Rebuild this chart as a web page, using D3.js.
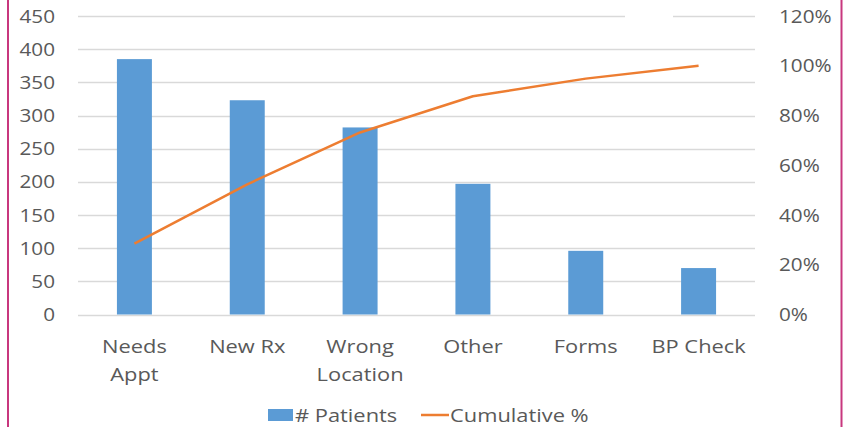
<!DOCTYPE html>
<html><head><meta charset="utf-8">
<script src="https://cdnjs.cloudflare.com/ajax/libs/d3/7.8.5/d3.min.js"></script>
<style>body{margin:0;background:#fff}svg{display:block}</style>
</head><body><svg id="c" width="850" height="427"></svg>
<script>
const categories = ["Needs Appt","New Rx","Wrong Location","Other","Forms","BP Check"];
const categoryLines = [["Needs","Appt"],["New Rx"],["Wrong","Location"],["Other"],["Forms"],["BP Check"]];
const patients = [385,323,282,197,96,70];
const leftTicks = [0,50,100,150,200,250,300,350,400,450];
const rightTicks = [0,0.2,0.4,0.6,0.8,1.0,1.2];
const seriesNames = ["# Patients","Cumulative %"];

const total = d3.sum(patients);
let run = 0;
const cumulative = patients.map(v => (run += v) / total);

const svg = d3.select("#c");
const font = "'Open Sans', sans-serif";
const txt = "#595959";
const SX = 1.15;
const m = {left:78, right:755, top:16, bottom:314.5};

const x = d3.scaleBand().domain(categories).range([m.left, m.right]).paddingInner(0.69).paddingOuter(0.345);
const y = d3.scaleLinear().domain([0,450]).range([m.bottom, m.top]);
const y2 = d3.scaleLinear().domain([0,1.2]).range([m.bottom, m.top]);

function label(g, tx, ty, str, anchor, size){
  return g.append("text").attr("transform",`translate(${tx},${ty}) scale(${SX},1)`)
    .attr("text-anchor",anchor).attr("font-family",font).attr("font-size",size).attr("fill",txt).text(str);
}

// border
svg.append("line").attr("x1",8).attr("x2",8).attr("y1",0).attr("y2",427).attr("stroke","#c8377e").attr("stroke-width",2);
svg.append("line").attr("x1",841.5).attr("x2",841.5).attr("y1",0).attr("y2",427).attr("stroke","#c8377e").attr("stroke-width",2);

// gridlines
svg.append("g").selectAll("line").data(leftTicks).join("line")
  .attr("x1",m.left).attr("x2",m.right).attr("y1",d=>Math.round(y(d))+0.5).attr("y2",d=>Math.round(y(d))+0.5)
  .attr("stroke","#d9d9d9").attr("stroke-width",1.3);
// gap in the top gridline (empty title box in original)
svg.append("rect").attr("x",625).attr("y",12).attr("width",48).attr("height",8).attr("fill","#fff");

// left axis labels
const la = svg.append("g");
leftTicks.forEach(t => label(la, 55, y(t)+6.5, d3.format("d")(t), "end", 18));

// right axis labels
const ra = svg.append("g");
const pf = d3.format(".0%");
rightTicks.forEach(t => label(ra, 779, y2(t)+6.5, pf(t), "start", 18));

// bars
svg.append("g").selectAll("rect").data(patients).join("rect")
  .attr("x",(d,i)=>x(categories[i])).attr("width",x.bandwidth())
  .attr("y",d=>y(d)).attr("height",d=>y(0)-y(d)).attr("fill","#5b9bd5");

// line
svg.append("path").datum(cumulative)
  .attr("d", d3.line().x((d,i)=>x(categories[i])+x.bandwidth()/2).y(d=>y2(d)))
  .attr("fill","none").attr("stroke","#ed7d31").attr("stroke-width",2.5).attr("stroke-linejoin","round");

// category labels
const cg = svg.append("g");
categoryLines.forEach((lines,i) => {
  const cx = x(categories[i]) + x.bandwidth()/2;
  lines.forEach((s,j) => label(cg, cx, 352.5 + j*28.5, s, "middle", 19));
});

// legend
const lg = svg.append("g");
lg.append("rect").attr("x",268).attr("y",409).attr("width",25).attr("height",12).attr("fill","#5b9bd5");
label(lg, 295, 421.5, seriesNames[0], "start", 19);
lg.append("line").attr("x1",421).attr("x2",449).attr("y1",415).attr("y2",415).attr("stroke","#ed7d31").attr("stroke-width",2.5);
label(lg, 450, 421.5, seriesNames[1], "start", 19);
</script></body></html>
